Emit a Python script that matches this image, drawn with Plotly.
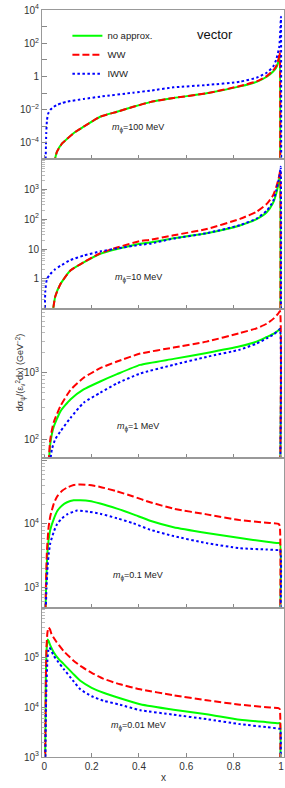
import plotly.graph_objects as go

# ---------------- data (y given as log10 values) ----------------
series_names = ["no approx.", "WW", "IWW"]
series_colors = ["#00ff00", "#ff0000", "#0000ff"]
mass_labels = ["100 MeV", "10 MeV", "1 MeV", "0.1 MeV", "0.01 MeV"]
x_ticks = [0, 0.2, 0.4, 0.6, 0.8, 1]
x_tick_labels = ["0", "0.2", "0.4", "0.6", "0.8", "1"]

# panel 1 : m = 100 MeV
p1_green_x = [0.040, 0.053, 0.075, 0.096, 0.13, 0.166, 0.236, 0.307, 0.376, 0.447, 0.546, 0.686, 0.827, 0.897, 0.94, 0.967, 0.98, 0.99, 0.995, 0.997]
p1_green_y = [-5.3, -4.55, -4.04, -3.76, -3.35, -3.03, -2.43, -2.13, -1.83, -1.55, -1.30, -1.02, -0.60, -0.33, -0.02, 0.30, 0.52, 0.92, 1.3, -5.3]
p1_red_x = [0.040, 0.053, 0.075, 0.096, 0.13, 0.166, 0.236, 0.307, 0.376, 0.447, 0.546, 0.686, 0.827, 0.897, 0.94, 0.967, 0.98, 0.99, 0.995, 0.997]
p1_red_y = [-5.3, -4.55, -4.04, -3.76, -3.35, -3.03, -2.43, -2.13, -1.83, -1.55, -1.30, -1.02, -0.58, -0.30, 0.02, 0.36, 0.62, 1.05, 1.5, -5.3]
p1_blue_x = [0.005, 0.008, 0.011, 0.016, 0.025, 0.04, 0.054, 0.075, 0.096, 0.166, 0.236, 0.376, 0.447, 0.546, 0.686, 0.827, 0.897, 0.94, 0.967, 0.98, 0.993, 0.998, 1.0, 1.001]
p1_blue_y = [-5.3, -3.43, -2.63, -2.25, -2.02, -1.83, -1.72, -1.60, -1.52, -1.36, -1.22, -0.98, -0.86, -0.66, -0.52, -0.32, -0.08, 0.22, 0.59, 1.0, 1.79, 3.0, 3.6, -5.3]

# panel 2 : m = 10 MeV
p2_green_x = [0.032, 0.046, 0.068, 0.11, 0.166, 0.236, 0.307, 0.405, 0.447, 0.546, 0.686, 0.827, 0.897, 0.94, 0.967, 0.98, 0.99, 0.995, 0.997, 0.998]
p2_green_y = [-1.3, -0.59, -0.17, 0.28, 0.55, 0.84, 1.0, 1.18, 1.22, 1.36, 1.53, 1.79, 2.0, 2.23, 2.55, 2.85, 3.2, 3.45, 3.6, -1.3]
p2_red_x = [0.032, 0.046, 0.068, 0.11, 0.166, 0.236, 0.307, 0.405, 0.447, 0.546, 0.686, 0.827, 0.897, 0.94, 0.967, 0.98, 0.99, 0.995, 0.997, 0.998]
p2_red_y = [-1.3, -0.59, -0.17, 0.28, 0.56, 0.86, 1.05, 1.27, 1.31, 1.46, 1.67, 2.01, 2.25, 2.51, 2.8, 3.07, 3.35, 3.55, 3.65, -1.3]
p2_blue_x = [0.002, 0.004, 0.011, 0.025, 0.045, 0.068, 0.11, 0.166, 0.236, 0.307, 0.405, 0.447, 0.546, 0.686, 0.827, 0.897, 0.94, 0.967, 0.98, 0.99, 0.995, 0.999, 1.0]
p2_blue_y = [-1.3, -0.4, 0.0, 0.16, 0.32, 0.44, 0.63, 0.78, 0.92, 1.02, 1.14, 1.18, 1.35, 1.53, 1.80, 2.02, 2.28, 2.6, 2.95, 3.3, 3.5, 3.75, -1.3]

# panel 3 : m = 1 MeV
p3_green_x = [0.016, 0.025, 0.039, 0.068, 0.11, 0.166, 0.236, 0.307, 0.405, 0.546, 0.686, 0.827, 0.897, 0.94, 0.97, 0.99, 0.996, 0.997]
p3_green_y = [1.5, 1.93, 2.18, 2.42, 2.6, 2.75, 2.87, 2.98, 3.12, 3.21, 3.30, 3.40, 3.47, 3.54, 3.59, 3.64, 3.66, 1.5]
p3_red_x = [0.016, 0.025, 0.039, 0.068, 0.11, 0.166, 0.236, 0.307, 0.405, 0.546, 0.686, 0.827, 0.897, 0.94, 0.97, 0.99, 0.996, 0.997]
p3_red_y = [1.5, 2.0, 2.25, 2.5, 2.74, 2.925, 3.07, 3.17, 3.29, 3.38, 3.47, 3.60, 3.67, 3.74, 3.82, 3.9, 3.93, 1.5]
p3_blue_x = [0.019, 0.032, 0.046, 0.068, 0.11, 0.166, 0.236, 0.307, 0.405, 0.546, 0.686, 0.827, 0.897, 0.94, 0.97, 0.99, 0.996, 0.997]
p3_blue_y = [1.5, 1.85, 2.0, 2.12, 2.32, 2.55, 2.70, 2.84, 2.99, 3.12, 3.24, 3.35, 3.44, 3.52, 3.58, 3.64, 3.66, 1.5]

# panel 4 : m = 0.1 MeV
p4_green_x = [0.004, 0.008, 0.013, 0.018, 0.025, 0.04, 0.054, 0.075, 0.096, 0.124, 0.152, 0.19, 0.236, 0.307, 0.376, 0.447, 0.546, 0.686, 0.827, 0.94, 0.99, 0.996, 0.997]
p4_green_y = [2.5, 3.1, 3.55, 3.75, 3.91, 4.08, 4.20, 4.29, 4.34, 4.37, 4.37, 4.36, 4.32, 4.24, 4.15, 4.05, 3.95, 3.86, 3.78, 3.72, 3.70, 3.70, 2.5]
p4_red_x = [0.004, 0.007, 0.011, 0.018, 0.025, 0.04, 0.054, 0.075, 0.096, 0.124, 0.152, 0.19, 0.236, 0.307, 0.376, 0.447, 0.546, 0.686, 0.827, 0.94, 0.99, 0.995, 0.997]
p4_red_y = [2.5, 3.1, 3.59, 3.95, 4.12, 4.32, 4.43, 4.52, 4.57, 4.61, 4.62, 4.61, 4.58, 4.51, 4.43, 4.34, 4.24, 4.15, 4.06, 4.02, 4.0, 3.97, 2.5]
p4_blue_x = [0.005, 0.009, 0.014, 0.019, 0.025, 0.04, 0.054, 0.075, 0.096, 0.138, 0.19, 0.236, 0.307, 0.376, 0.447, 0.546, 0.686, 0.827, 0.94, 0.99, 0.997, 0.998]
p4_blue_y = [2.5, 3.0, 3.35, 3.55, 3.70, 3.88, 4.0, 4.09, 4.15, 4.21, 4.19, 4.16, 4.09, 4.01, 3.91, 3.81, 3.70, 3.62, 3.60, 3.59, 3.59, 2.5]

# panel 5 : m = 0.01 MeV
p5_green_x = [0.003, 0.006, 0.01, 0.014, 0.018, 0.025, 0.04, 0.06, 0.081, 0.12, 0.152, 0.2, 0.25, 0.32, 0.405, 0.546, 0.686, 0.827, 0.94, 0.99, 0.996, 0.997]
p5_green_y = [2.8, 4.5, 5.2, 5.36, 5.33, 5.24, 5.1, 4.97, 4.87, 4.68, 4.53, 4.39, 4.29, 4.18, 4.06, 3.95, 3.86, 3.75, 3.70, 3.68, 3.68, 2.8]
p5_red_x = [0.003, 0.006, 0.009, 0.013, 0.018, 0.024, 0.03, 0.05, 0.081, 0.12, 0.152, 0.2, 0.25, 0.32, 0.405, 0.546, 0.686, 0.827, 0.94, 0.99, 0.995, 0.997]
p5_red_y = [2.8, 4.4, 5.2, 5.5, 5.60, 5.56, 5.47, 5.32, 5.13, 4.95, 4.83, 4.69, 4.57, 4.46, 4.36, 4.24, 4.14, 4.05, 4.0, 3.98, 3.96, 2.8]
p5_blue_x = [0.004, 0.008, 0.013, 0.017, 0.021, 0.028, 0.04, 0.06, 0.081, 0.12, 0.152, 0.2, 0.25, 0.32, 0.405, 0.546, 0.686, 0.827, 0.94, 0.99, 0.997, 0.998]
p5_blue_y = [2.8, 4.3, 4.95, 5.15, 5.20, 5.15, 5.03, 4.9, 4.77, 4.54, 4.36, 4.22, 4.13, 4.05, 3.94, 3.85, 3.76, 3.66, 3.60, 3.57, 3.56, 2.8]

# y-axis ranges (log10) and labelled decades for each panel
y_ranges = [[-5, 4], [-1, 4], [1.715, 3.964], [2.69, 5.03], [3, 6]]
y_major_exps = [list(range(-4, 5)), [0, 1, 2, 3], [2, 3], [3, 4, 5], [3, 4, 5]]
y_label_exps = [[-4, -2, 0, 2, 4], [0, 1, 2, 3], [2, 3], [3, 4], [3, 4, 5]]

panels = [
    [(p1_green_x, p1_green_y), (p1_red_x, p1_red_y), (p1_blue_x, p1_blue_y)],
    [(p2_green_x, p2_green_y), (p2_red_x, p2_red_y), (p2_blue_x, p2_blue_y)],
    [(p3_green_x, p3_green_y), (p3_red_x, p3_red_y), (p3_blue_x, p3_blue_y)],
    [(p4_green_x, p4_green_y), (p4_red_x, p4_red_y), (p4_blue_x, p4_blue_y)],
    [(p5_green_x, p5_green_y), (p5_red_x, p5_red_y), (p5_blue_x, p5_blue_y)],
]

# ---------------- figure ----------------
FONT = "Liberation Sans, Arial, sans-serif"
dashes = ["solid", "7px,3px", "2.5px,2.5px"]
fig = go.Figure()
n = len(panels)


def exp_label(e):
    if e == 0:
        return "1"
    if e == 1:
        return "10"
    return "10<sup>%s</sup>" % (str(e).replace("-", "\u2212"))


for i, panel in enumerate(panels):
    ax = "" if i == 0 else str(i + 1)
    for j, (xs, ly) in enumerate(panel):
        fig.add_trace(go.Scatter(
            x=xs, y=[10 ** v for v in ly], mode="lines",
            name=series_names[j], showlegend=(i == 0),
            line=dict(color=series_colors[j], width=2, dash=dashes[j], shape="spline", smoothing=0.5),
            xaxis="x" + ax, yaxis="y" + ax,
        ))
    top = 1 - i / n
    bot = 1 - (i + 1) / n
    lo, hi = y_ranges[i]
    majors = [10 ** e for e in y_major_exps[i]]
    texts = [exp_label(e) if e in y_label_exps[i] else "" for e in y_major_exps[i]]
    minors = [k * 10 ** e for e in range(int(lo) - 1, int(hi) + 1) for k in range(2, 10)]
    yax = dict(
        type="log", range=[lo, hi], domain=[bot, top], anchor="x" + ax,
        tickmode="array", tickvals=majors, ticktext=texts,
        ticks="inside", ticklen=5, tickcolor="#888", tickwidth=1,
        showline=True, linecolor="#999", linewidth=1, mirror=True,
        showgrid=False, zeroline=False,
        tickfont=dict(family=FONT, size=10, color="#333"),
    )
    if i > 0:
        yax["minor"] = dict(tickmode="array", tickvals=minors, ticks="inside", ticklen=3,
                            tickcolor="#bbb", showgrid=False)
    xax = dict(
        range=[-0.01, 1.013], anchor="y" + ax, domain=[0, 1],
        tickmode="array", tickvals=x_ticks, ticktext=x_tick_labels,
        ticks="inside", ticklen=4, tickcolor="#888",
        showline=True, linecolor="#999", linewidth=1, mirror=True,
        showgrid=False, zeroline=False, showticklabels=(i == n - 1),
        tickfont=dict(family=FONT, size=10, color="#333"),
    )
    if i > 0:
        xax["matches"] = "x"
    fig.layout["xaxis" + ax] = xax
    fig.layout["yaxis" + ax] = yax
    fig.add_annotation(
        text="<i>m</i><sub>\u03d5</sub>=" + mass_labels[i],
        xref="x" + ax + " domain", yref="y" + ax + " domain",
        x=0.397, y=0.155, showarrow=False,
        font=dict(family=FONT, size=9, color="#222"),
    )

fig.add_annotation(text="vector", xref="x domain", yref="y domain", x=0.797, y=0.9,
                   showarrow=False, font=dict(family=FONT, size=13, color="#111"))
fig.add_annotation(text="d\u03c3<sub>\u03c8</sub>/(\u03b5<sub>v</sub><sup>2</sup>dx) (GeV<sup>\u22122</sup>)",
                   xref="paper", yref="paper", x=-0.124, y=0.515, textangle=-90,
                   showarrow=False, font=dict(family=FONT, size=9, color="#333"))
fig.add_annotation(text="x", xref="paper", yref="paper", x=0.5, y=-0.027, yanchor="middle",
                   showarrow=False, font=dict(family=FONT, size=10, color="#333"))

fig.update_layout(
    width=285, height=788,
    margin=dict(l=42, r=1, t=10, b=31),
    paper_bgcolor="white", plot_bgcolor="white",
    legend=dict(x=0.105, y=0.985, xanchor="left", yanchor="top", bgcolor="rgba(0,0,0,0)",
                font=dict(family=FONT, size=9.5, color="#222"), tracegroupgap=0, itemwidth=30),
    showlegend=True,
)

fig.write_html("out.html", config={"displayModeBar": False},
               post_script="document.body.style.margin='0px';")
